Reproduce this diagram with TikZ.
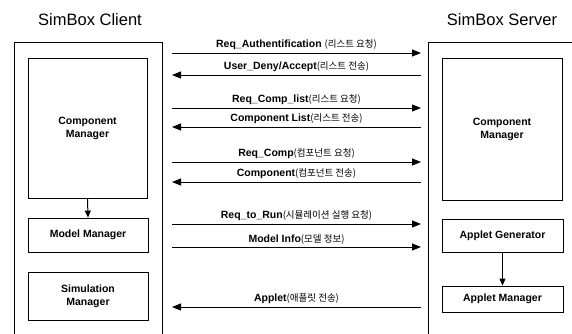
\documentclass[tikz,border=0pt]{standalone}
\usepackage{fontspec}
\setmainfont{Liberation Sans}
\newfontfamily\kr{Noto Sans CJK KR}
\newcommand{\krtxt}[1]{{\kr\mdseries\fontsize{9.5}{10}\selectfont #1}}
\usetikzlibrary{arrows.meta}

\begin{document}
\begin{tikzpicture}[x=1pt,y=-1pt,
  title/.style={font=\fontsize{16.5}{18}\selectfont},
  part/.style={draw,line width=0.9pt,align=center,inner sep=2pt,
    font=\fontsize{10.5}{13}\selectfont\bfseries},
  frame/.style={line width=0.9pt},
  msg/.style={line width=1pt,-{Triangle[length=9pt,width=7pt]}},
  flow/.style={line width=1pt,-{Triangle[length=7pt,width=6pt]}},
  lbl/.style={above=1.5pt,font=\fontsize{10.5}{12}\selectfont\bfseries,inner sep=1pt}]
\useasboundingbox (0,0) rectangle (572,333);

% titles
\node[title] (tc) at (90,20) {SimBox Client};
\node[title] (ts) at (502,20) {SimBox Server};

% open-bottomed frames of client and server
\coordinate (cbl) at (14,334);
\coordinate (ctl) at (14,42);
\coordinate (ctr) at (162,42);
\coordinate (cbr) at (162,334);
\coordinate (sbl) at (428,334);
\coordinate (stl) at (428,42);
\coordinate (str) at (573,42);
\draw[frame] (cbl) -- (ctl) -- (ctr) -- (cbr);
\draw[frame] (sbl) -- (stl) -- (str);

% client components
\node[part,minimum width=119pt,minimum height=140pt] (ccm) at (87.5,128) {Component\\Manager};
\node[part,minimum width=120pt,minimum height=34pt] (mm) at (88,235) {Model Manager};
\node[part,minimum width=120pt,minimum height=48pt] (sm) at (88,296) {Simulation\\Manager};

% server components
\node[part,minimum width=120pt,minimum height=142pt] (scm) at (502,129) {Component\\Manager};
\node[part,minimum width=121pt,minimum height=33pt] (ag) at (502.5,235.5) {Applet Generator};
\node[part,minimum width=121pt,minimum height=26pt] (am) at (502.5,299) {Applet Manager};

\draw[flow] (ccm.south) -- (mm.north);
\draw[flow] (ag.south) -- (am.north);

% message end points
\foreach \i/\y in {1/53,2/75,3/108,4/127,5/162,6/182,7/224,8/247,9/307}{
  \coordinate (l\i) at (172,\y);
  \coordinate (r\i) at (421,\y);
}

\draw[msg] (l1) -- (r1) node[lbl,midway] {Req\_Authentification \krtxt{(리스트 요청)}};
\draw[msg] (r2) -- (l2) node[lbl,midway] {User\_Deny/Accept\krtxt{(리스트 전송)}};
\draw[msg] (l3) -- (r3) node[lbl,midway] {Req\_Comp\_list\krtxt{(리스트 요청)}};
\draw[msg] (r4) -- (l4) node[lbl,midway] {Component List\krtxt{(리스트 전송)}};
\draw[msg] (l5) -- (r5) node[lbl,midway] {Req\_Comp\krtxt{(컴포넌트 요청)}};
\draw[msg] (r6) -- (l6) node[lbl,midway] {Component\krtxt{(컴포넌트 전송)}};
\draw[msg] (l7) -- (r7) node[lbl,midway] {Req\_to\_Run\krtxt{(시뮬레이션 실행 요청)}};
\draw[msg] (l8) -- (r8) node[lbl,midway] {Model Info\krtxt{(모델 정보)}};
\draw[msg] (r9) -- (l9) node[lbl,midway] {Applet\krtxt{(애플릿 전송)}};
\end{tikzpicture}
\end{document}
